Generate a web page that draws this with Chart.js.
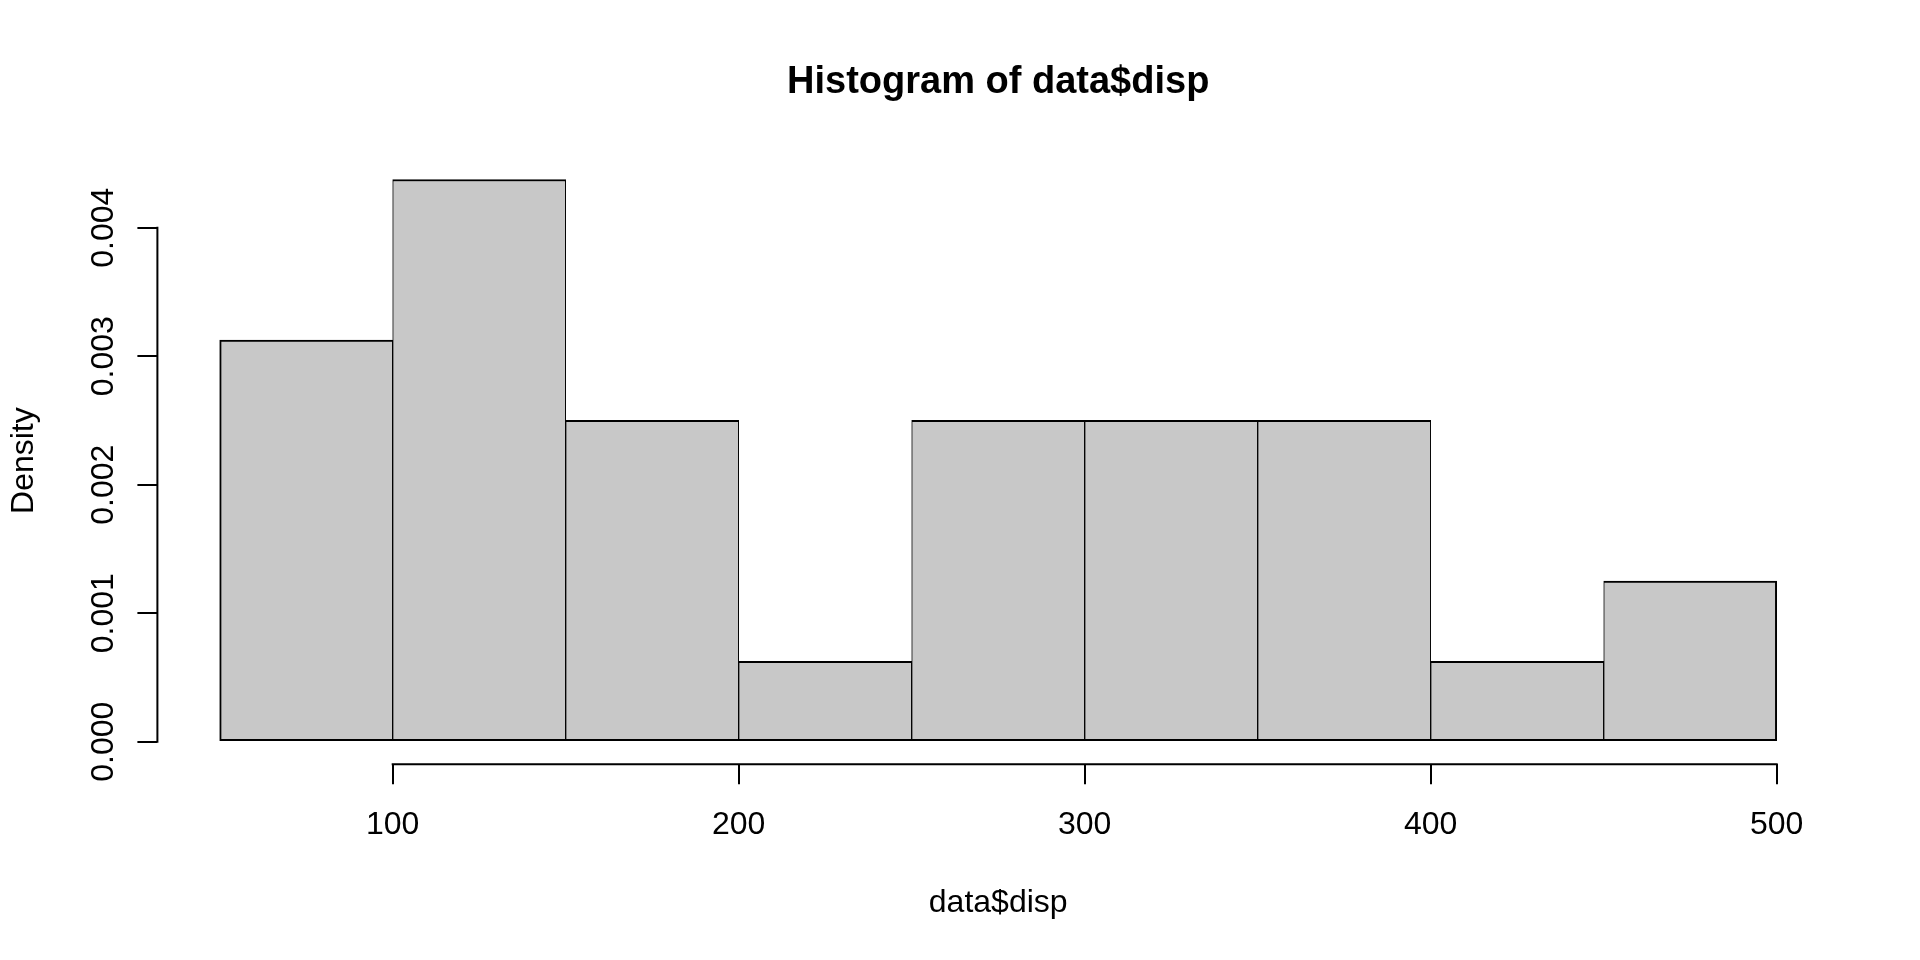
<!DOCTYPE html>
<html>
<head>
<meta charset="utf-8">
<style>
  html, body { margin: 0; padding: 0; background: #fff; }
  #wrap { width: 1920px; height: 960px; }
</style>
<script src="https://cdn.jsdelivr.net/npm/chart.js@4/dist/chart.umd.min.js"></script>
</head>
<body>
<div id="wrap"><canvas id="hist"></canvas></div>
<script>
// histogram of mtcars disp, bins of width 50
var binCenters = [75, 125, 175, 225, 275, 325, 375, 425, 475]
var densities = [0.003125, 0.004375, 0.0025, 0.000625, 0.0025, 0.0025, 0.0025, 0.000625, 0.00125]
var xTicks = [100, 200, 300, 400, 500]
var yTicks = [0, 0.001, 0.002, 0.003, 0.004]
var yTickLabels = ['0.000', '0.001', '0.002', '0.003', '0.004']

var FONT = '"Liberation Sans", Arial, Helvetica, sans-serif'
var last = binCenters.length - 1

// R style axes: lines only span the tick range, y labels rotated
var rAxes = {
    id: 'rAxes',
    afterDraw: function(chart) {
        var ctx = chart.ctx
        var xs = chart.scales.x, ys = chart.scales.y
        var area = chart.chartArea
        ctx.save()
        ctx.strokeStyle = '#000'
        ctx.lineWidth = 2
        ctx.beginPath()
        ctx.moveTo(xs.getPixelForValue(xTicks[0]) - 1, area.bottom)
        ctx.lineTo(xs.getPixelForValue(xTicks[xTicks.length - 1]) + 1, area.bottom)
        ctx.moveTo(area.left, ys.getPixelForValue(yTicks[0]) + 1)
        ctx.lineTo(area.left, ys.getPixelForValue(yTicks[yTicks.length - 1]) - 1)
        ctx.stroke()

        ctx.fillStyle = '#000'
        ctx.font = '32px ' + FONT
        ctx.textAlign = 'center'
        ctx.textBaseline = 'alphabetic'
        yTicks.forEach(function(v, i) {
            ctx.save()
            ctx.translate(area.left - 44.5, ys.getPixelForValue(v))
            ctx.rotate(-Math.PI / 2)
            ctx.fillText(yTickLabels[i], 0, 0)
            ctx.restore()
        })

        ctx.font = 'bold 38px ' + FONT
        ctx.fillText('Histogram of data$disp', (area.left + area.right) / 2, 93)
        ctx.restore()
    }
}

var context = document.getElementById('hist').getContext('2d')

var chart = new Chart(context, {
    type: 'bar',
    data: {
        datasets: [{
            label: 'data$disp',
            data: binCenters.map(function(c, i) { return {x: c, y: densities[i]} }),
            backgroundColor: '#c8c8c8',
            borderColor: '#000',
            borderSkipped: false,
            borderWidth: function(c) {
                return {
                    top: 2, bottom: 2,
                    left: c.dataIndex === 0 ? 2 : 1,
                    right: c.dataIndex === last ? 2 : 1
                }
            },
            categoryPercentage: 1,
            barPercentage: 1
        }]
    },
    options: {
        responsive: true,
        maintainAspectRatio: false,
        animation: false,
        layout: { padding: { top: 157, right: 81, bottom: 0, left: 0 } },
        plugins: {
            legend: { display: false },
            title: { display: false },
            tooltip: { enabled: false }
        },
        scales: {
            x: {
                type: 'linear',
                min: 32,
                max: 518,
                offset: false,
                afterBuildTicks: function(s) { s.ticks = xTicks.map(function(v) { return {value: v} }) },
                afterFit: function(s) { s.height = 195.8 },
                grid: { offset: false, drawOnChartArea: false, drawTicks: true, tickLength: 20, color: '#000', lineWidth: 2 },
                border: { display: false },
                ticks: {
                    autoSkip: false, maxRotation: 0, padding: 22,
                    color: '#000', font: { family: FONT, size: 32 }
                },
                title: {
                    display: true, text: 'data$disp', color: '#000',
                    font: { family: FONT, size: 32, lineHeight: 1.2 },
                    padding: { top: 0, bottom: 38 }
                }
            },
            y: {
                type: 'linear',
                min: -0.000175,
                max: 0.00455,
                afterBuildTicks: function(s) { s.ticks = yTicks.map(function(v) { return {value: v} }) },
                afterFit: function(s) { s.width = 157.4 },
                grid: { drawOnChartArea: false, drawTicks: true, tickLength: 20, color: '#000', lineWidth: 2 },
                border: { display: false },
                ticks: { display: false },
                title: {
                    display: true, text: 'Density', color: '#000',
                    font: { family: FONT, size: 32, lineHeight: 1.2 },
                    padding: { top: 5, bottom: 0 }
                }
            }
        }
    },
    plugins: [rAxes]
})
</script>
</body>
</html>
